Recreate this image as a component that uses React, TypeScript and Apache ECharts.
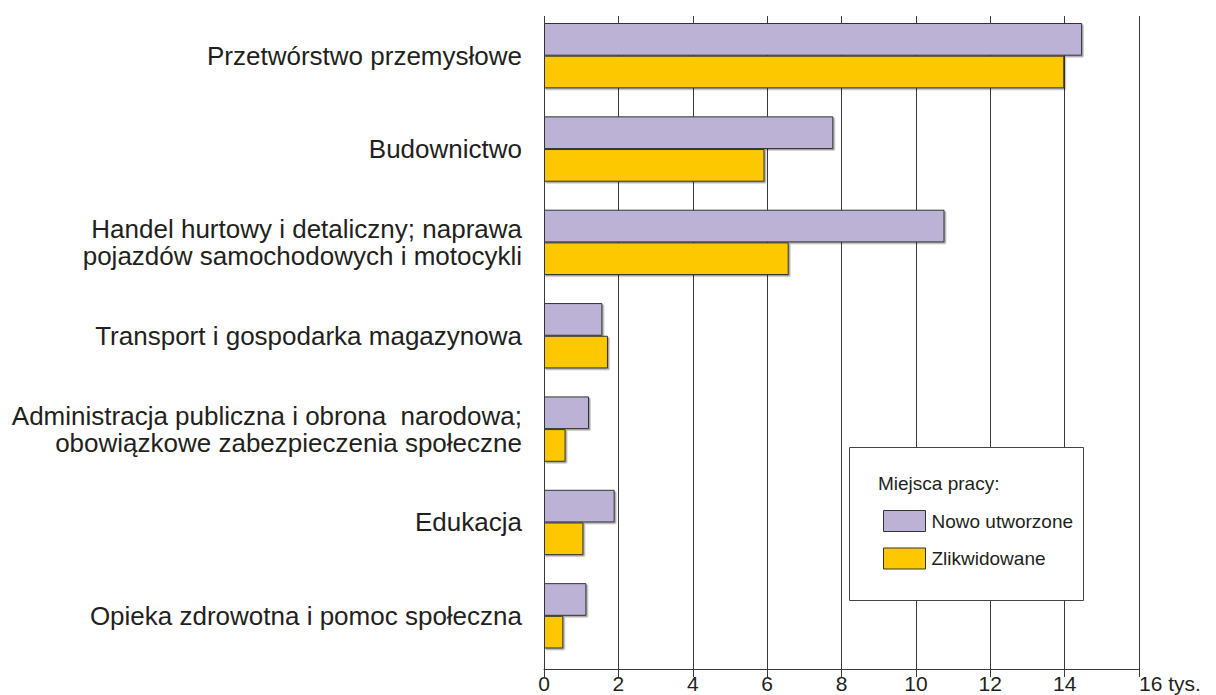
import React, { useEffect, useRef } from "react";
import * as echarts from "echarts";

const categories = [
  "Przetwórstwo przemysłowe",
  "Budownictwo",
  "Handel hurtowy i detaliczny; naprawa\npojazdów samochodowych i motocykli",
  "Transport i gospodarka magazynowa",
  "Administracja publiczna i obrona  narodowa;\nobowiązkowe zabezpieczenia społeczne",
  "Edukacja",
  "Opieka zdrowotna i pomoc społeczna",
];
const newJobs = [14.47, 7.78, 10.77, 1.57, 1.21, 1.9, 1.14];
const removedJobs = [13.99, 5.93, 6.58, 1.72, 0.58, 1.06, 0.52];
const seriesNames = ["Nowo utworzone", "Zlikwidowane"];
const legendTitle = "Miejsca pracy:";
const unitLabel = "tys.";
const xMin = 0;
const xMax = 16;
const xStep = 2;

const FONT = "'Liberation Sans', Arial, Helvetica, sans-serif";
const TEXT = "#231F20";
const LINE = "#3a3a3a";

export default function App() {
  const ref = useRef<HTMLDivElement>(null);
  useEffect(() => {
    if (!ref.current) return;
    const chart = echarts.init(ref.current, undefined, { renderer: "svg" });
    const barStyle = (color: string) => ({
      color,
      borderColor: "#333",
      borderWidth: 1,
      shadowColor: "rgba(0,0,0,0.35)",
      shadowOffsetX: 1.5,
      shadowOffsetY: 1.5,
      shadowBlur: 0,
    });
    chart.setOption({
      animation: false,
      backgroundColor: "#fff",
      textStyle: { fontFamily: FONT, color: TEXT },
      grid: [
        { left: 544, right: 77, top: 16, bottom: 26, containLabel: false, outerBoundsMode: "none" },
        { left: 544, right: 77, top: 9, bottom: 32.5, containLabel: false, outerBoundsMode: "none" },
      ],
      xAxis: [
        {
          gridIndex: 0,
          type: "value",
          min: xMin,
          max: xMax,
          interval: xStep,
          axisLine: { show: true, lineStyle: { color: LINE, width: 1 } },
          axisTick: { show: true, length: 8, lineStyle: { color: LINE, width: 1 } },
          splitLine: { show: true, lineStyle: { color: LINE, width: 1 } },
          axisLabel: {
            fontSize: 21,
            lineHeight: 21,
            color: TEXT,
            fontFamily: FONT,
            margin: 4,
            alignMaxLabel: "left",
            formatter: (v: number) => (v === xMax ? `${v} ${unitLabel}` : `${v}`),
          },
        },
        {
          gridIndex: 1,
          type: "value",
          min: xMin,
          max: xMax,
          interval: xStep,
          show: false,
          splitLine: { show: false },
        },
      ],
      yAxis: [
        {
          gridIndex: 0,
          type: "category",
          data: categories,
          show: false,
        },
        {
          gridIndex: 1,
          type: "category",
          data: categories,
          inverse: true,
          axisLine: { show: false },
          axisTick: { show: false },
          splitLine: { show: false },
          axisLabel: {
            fontSize: 26,
            lineHeight: 27,
            color: TEXT,
            fontFamily: FONT,
            margin: 22,
            align: "right",
          },
        },
      ],
      legend: {
        orient: "vertical",
        left: 878,
        top: 505,
        itemWidth: 42,
        itemHeight: 21,
        itemGap: 15.5,
        icon: "rect",
        selectedMode: false,
        z: 10,
        itemStyle: { borderWidth: 1, borderColor: "#333", shadowColor: "transparent" },
        textStyle: { fontSize: 19, color: TEXT, fontFamily: FONT, padding: [0, 0, 0, 1] },
        data: seriesNames,
      },
      graphic: [
        {
          type: "rect",
          z: 5,
          shape: { x: 849.5, y: 447.5, width: 234, height: 153 },
          style: { fill: "#fff", stroke: "#444", lineWidth: 1 },
        },
        {
          type: "text",
          z: 6,
          x: 878,
          y: 483,
          style: {
            text: legendTitle,
            fontSize: 19,
            fontFamily: FONT,
            fill: TEXT,
            verticalAlign: "middle",
          },
        },
      ],
      series: [
        {
          name: seriesNames[0],
          type: "bar",
          xAxisIndex: 1,
          yAxisIndex: 1,
          data: newJobs,
          barGap: "0%",
          barCategoryGap: "30%",
          itemStyle: barStyle("#BBB2D6"),
        },
        {
          name: seriesNames[1],
          type: "bar",
          xAxisIndex: 1,
          yAxisIndex: 1,
          data: removedJobs,
          barGap: "0%",
          barCategoryGap: "30%",
          itemStyle: barStyle("#FDC800"),
        },
      ],
    });
    return () => chart.dispose();
  }, []);
  return (
    <div
      ref={ref}
      style={{ position: "absolute", left: 0, top: 0, width: 1216, height: 695 }}
    />
  );
}
